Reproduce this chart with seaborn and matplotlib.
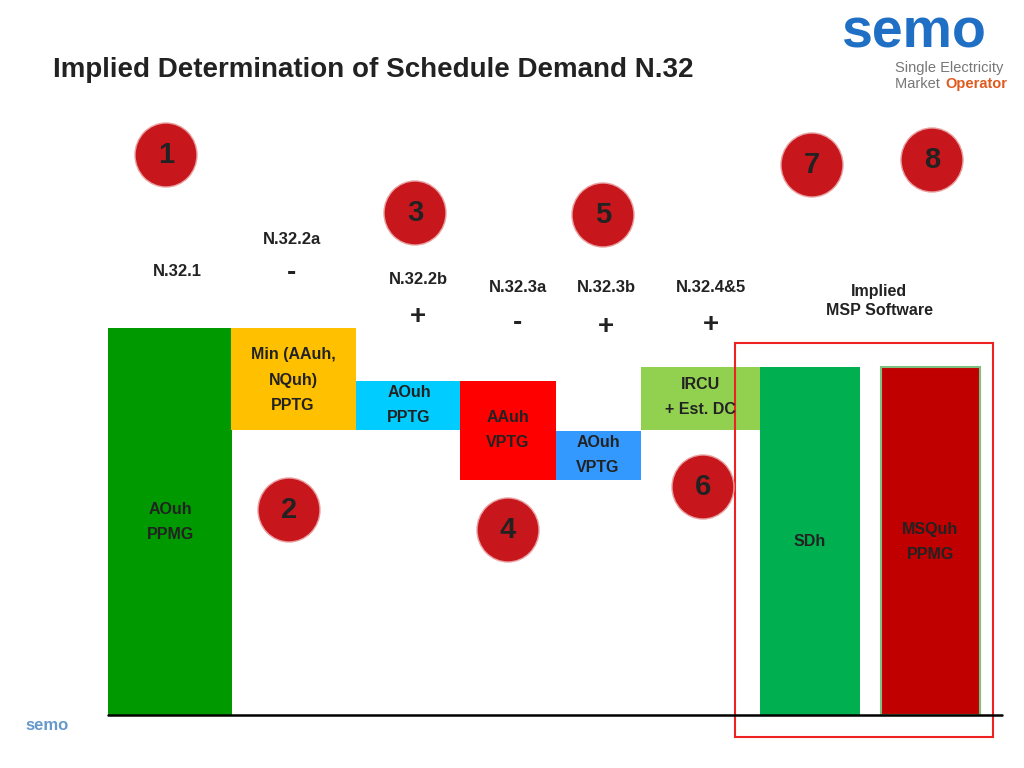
import matplotlib
matplotlib.use("Agg")
import matplotlib.pyplot as plt
import seaborn as sns
from matplotlib.patches import Ellipse, Rectangle

sns.set_theme(style="white")
plt.rcParams["font.family"] = "Liberation Sans"

# Waterfall data (value units = px above baseline)
labels = ["AOuh\nPPMG", "Min (AAuh,\nNQuh)\nPPTG", "AOuh\nPPTG", "AAuh\nVPTG", "AOuh\nVPTG", "IRCU\n+ Est. DC", "SDh", "MSQuh\nPPMG"]
lefts = [108, 231, 356, 460, 556, 641, 760, 881]
widths = [124, 125, 104, 96, 85, 119, 100, 99]
bottoms = [0, 285, 285, 235, 235, 285, 0, 0]
tops = [387, 387, 334, 334, 284, 348, 348, 348]
colors = ["#009900", "#FFC000", "#00CCFF", "#FF0000", "#3399FF", "#92D050", "#00B050", "#C00000"]
label_pos = [(170, 193), (293, 335), (409, 310), (508, 285), (598, 260), (700, 318), (810, 173), (930, 173)]
codes = ["N.32.1", "N.32.2a", "N.32.2b", "N.32.3a", "N.32.3b", "N.32.4&5"]
code_pos = [(177, 443), (292, 476), (418, 435), (518, 427), (606, 428), (711, 428)]
signs = ["-", "+", "-", "+", "+"]
sign_pos = [(292, 442), (418, 398), (518, 392), (606, 388), (711, 390)]
circle_nums = ["1", "2", "3", "4", "5", "6", "7", "8"]
circle_pos = [(166, 560), (289, 205), (415, 502), (508, 185), (603, 500), (703, 228), (812, 550), (932, 555)]

fig = plt.figure(figsize=(10.24, 7.68), dpi=100)
ax = fig.add_axes([0, 0, 1, 1])
ax.set_xlim(0, 1024)
ax.set_ylim(-53, 715)
ax.axis("off")

for l, w, b, t, c in zip(lefts, widths, bottoms, tops, colors):
    ax.bar(l, t - b, width=w, bottom=b, align="edge", color=c, edgecolor="none")
ax.add_patch(Rectangle((881, 0), 99, 348, fill=False, edgecolor="#7fbf7f", lw=1.5))
for lab, (x, y) in zip(labels, label_pos):
    ax.text(x, y, lab, ha="center", va="center", fontsize=11.5, fontweight="bold",
            color="#222222", linespacing=1.9)
ax.plot([108, 1002], [0, 0], color="black", lw=1.8)
ax.add_patch(Rectangle((735, -22), 258, 394, fill=False, edgecolor="#EE2222", lw=1.5))

for s, (x, y) in zip(codes, code_pos):
    ax.text(x, y, s, ha="center", va="center", fontsize=12, fontweight="bold", color="#222222")
for s, (x, y) in zip(signs, sign_pos):
    ax.text(x, y, s, ha="center", va="center", fontsize=20, fontweight="bold", color="#222222")
ax.text(879, 414, "Implied\nMSP Software", ha="center", va="center", fontsize=11.5,
        fontweight="bold", color="#222222", linespacing=1.3)
for n, (x, y) in zip(circle_nums, circle_pos):
    ax.add_patch(Ellipse((x, y), 62, 64, color="#C8161D", ec="#E8A0A0", lw=1))
    ax.text(x, y, n, ha="center", va="center", fontsize=21, fontweight="bold", color="#222222")

ax.text(53, 645, "Implied Determination of Schedule Demand N.32", fontsize=20,
        fontweight="bold", color="#222222", va="center")
ax.text(913, 682, "semo", fontsize=40, fontweight="bold", color="#1F6FC5", ha="center", va="center")
ax.text(895, 647, "Single Electricity", fontsize=10.5, color="#777777", va="center")
ax.text(895, 631, "Market ", fontsize=10.5, color="#777777", va="center")
ax.text(945, 631, "Operator", fontsize=10.5, color="#E05A1E", fontweight="bold", va="center")
ax.text(47, -15, "semo", fontsize=12, fontweight="bold", color="#6699CC", ha="center")

fig.savefig("out.png", dpi=100)
